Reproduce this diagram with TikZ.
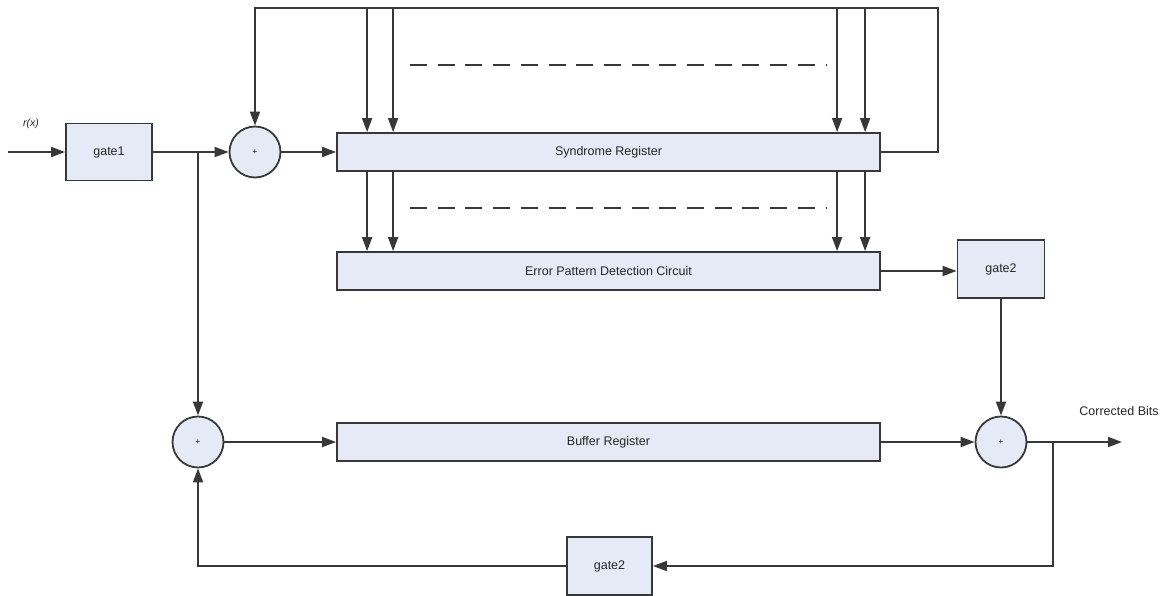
\documentclass[tikz,border=0pt]{standalone}
\usepackage{fontspec}
\setmainfont{Liberation Sans}
\usetikzlibrary{arrows.meta,calc}
\definecolor{ln}{HTML}{383838}
\definecolor{boxfill}{HTML}{E6EAF6}
\tikzset{
  blk/.style={draw=ln, line width=1.8pt, fill=boxfill, inner sep=0pt,
              font=\fontsize{12.5}{14}\selectfont, text=black!85},
  sum/.style={draw=ln, line width=1.8pt, fill=boxfill, circle, inner sep=0pt,
              minimum size=51pt, font=\fontsize{8}{9}\selectfont},
  arr/.style={draw=ln, line width=1.8pt, -{Triangle[length=14pt,width=10pt]}},
  wire/.style={draw=ln, line width=1.8pt},
  dots/.style={draw=ln, line width=1.8pt, dash pattern=on 17pt off 10.7pt},
  lbl/.style={font=\fontsize{12.5}{14}\selectfont, text=black!85}
}
\begin{document}
\begin{tikzpicture}[x=1pt, y=-1pt]
\useasboundingbox (0,0) rectangle (1171,595);

% blocks
\node[blk, minimum width=86pt, minimum height=57pt] (g1) at (109,152) {gate1};
\node[sum] (s1) at (255,152) {+};
\node[blk, minimum width=543pt, minimum height=38pt] (syn) at (608.5,152) {Syndrome Register};
\node[blk, minimum width=543pt, minimum height=38pt] (epd) at (608.5,271) {Error Pattern Detection Circuit};
\node[blk, minimum width=87pt, minimum height=58pt] (g2) at (1001,269) {gate2};
\node[sum] (s2) at (198,442) {+};
\node[blk, minimum width=543pt, minimum height=38pt] (buf) at (608.5,442) {Buffer Register};
\node[sum] (s3) at (1001,442) {+};
\node[blk, minimum width=85pt, minimum height=58pt] (g3) at (609.5,566) {gate2};

% labels
\node[lbl, font=\fontsize{10.5}{12}\selectfont\itshape] (rx) at (31,124) {r(x)};
\node[lbl] (cb) at (1119,411) {Corrected Bits};

% helper points
\coordinate (in) at (8,152);
\coordinate (j1) at (198,152);
\coordinate (tr) at (938,8);
\coordinate (j3) at (1053,442);
\coordinate (out) at (1122,442);

% input path
\draw[arr] (in) -- (g1.west);
\draw[wire] (g1.east) -- (j1);
\draw[arr] (j1) -- (s1.west);
\draw[arr] (j1) -- (s2.north);
\draw[arr] (s1.east) -- (syn.west);

% syndrome feedback loop
\draw[arr] (syn.east) -| (tr) -| (s1.north);
\foreach \dx in {31,57,501,529} {
  \coordinate (a) at ($(syn.north west)+(\dx,0)$);
  \draw[arr] (a |- tr) -- (a);
  \coordinate (b) at ($(syn.south west)+(\dx,0)$);
  \draw[arr] (b) -- (b |- epd.north);
}
\draw[dots] (410,65) -- (826,65);
\draw[dots] (410,208) -- (826,208);

% detection to correction
\draw[arr] (epd.east) -- (epd.east -| g2.west);
\draw[arr] (g2.south) -- (s3.north);
\draw[arr] (s2.east) -- (buf.west);
\draw[arr] (buf.east) -- (s3.west);
\draw[arr] (s3.east) -- (out);

% buffer feedback through gate2
\draw[arr] (j3) |- (g3.east);
\draw[arr] (g3.west) -| (s2.south);
\end{tikzpicture}
\end{document}
